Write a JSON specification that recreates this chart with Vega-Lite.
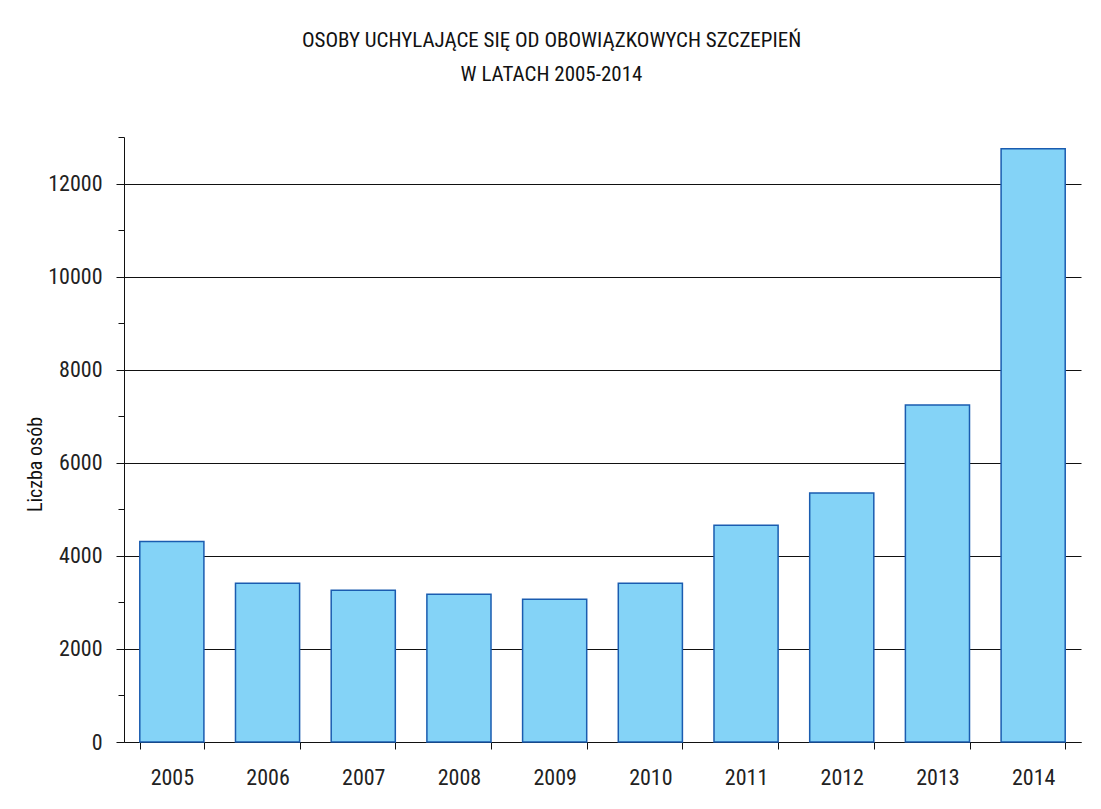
{
  "$schema": "https://vega.github.io/schema/vega-lite/v6.json",
  "autosize": "none",
  "width": 957,
  "height": 605,
  "padding": {"left": 124, "top": 137, "right": 20, "bottom": 67},
  "background": "white",
  "title": {
    "text": ["OSOBY UCHYLAJĄCE SIĘ OD OBOWIĄZKOWYCH SZCZEPIEŃ", "W LATACH 2005-2014"],
    "anchor": "middle",
    "frame": "group",
    "dx": -51,
    "fontSize": 21,
    "fontWeight": "normal",
    "lineHeight": 34,
    "color": "#111111",
    "offset": 52
  },
  "config": {
    "font": "Liberation Sans Narrow, Roboto Condensed, DejaVu Sans Condensed, sans-serif",
    "view": {"stroke": null}
  },
  "data": {
    "values": [
      {"rok": "2005", "liczba": 4308},
      {"rok": "2006", "liczba": 3413},
      {"rok": "2007", "liczba": 3262},
      {"rok": "2008", "liczba": 3176},
      {"rok": "2009", "liczba": 3069},
      {"rok": "2010", "liczba": 3413},
      {"rok": "2011", "liczba": 4660},
      {"rok": "2012", "liczba": 5348},
      {"rok": "2013", "liczba": 7241},
      {"rok": "2014", "liczba": 12746}
    ]
  },
  "mark": {"type": "bar", "fill": "#84D3F7", "stroke": "#1A5CB0", "strokeWidth": 1.5},
  "encoding": {
    "x": {
      "field": "rok",
      "type": "ordinal",
      "scale": {"paddingInner": 0.33, "paddingOuter": 0.165},
      "axis": {
        "title": null,
        "labelAngle": 0,
        "labelFontSize": 22,
        "labelColor": "#222222",
        "labelPadding": 18,
        "tickBand": "extent",
        "tickSize": 7,
        "tickColor": "#111111",
        "domainColor": "#111111",
        "grid": false
      }
    },
    "y": {
      "field": "liczba",
      "type": "quantitative",
      "scale": {"domain": [0, 13000], "nice": false},
      "axis": {
        "title": "Liczba osób",
        "titleFontSize": 20,
        "titleFontWeight": "normal",
        "titleColor": "#111111",
        "titleAngle": -90,
        "titleX": -89,
        "titleY": 327,
        "titleAlign": "center",
        "titleBaseline": "middle",
        "values": [0, 1000, 2000, 3000, 4000, 5000, 6000, 7000, 8000, 9000, 10000, 11000, 12000, 13000],
        "labelExpr": "datum.value % 2000 === 0 ? datum.value : ''",
        "format": "d",
        "labelFontSize": 22,
        "labelColor": "#222222",
        "labelPadding": 14,
        "tickSize": {"condition": {"test": "datum.value % 2000 === 0", "value": 8}, "value": 6},
        "tickColor": "#111111",
        "domainColor": "#111111",
        "grid": true,
        "gridColor": "#111111",
        "gridOpacity": {"condition": {"test": "datum.value % 2000 === 0", "value": 1}, "value": 0}
      }
    }
  }
}
